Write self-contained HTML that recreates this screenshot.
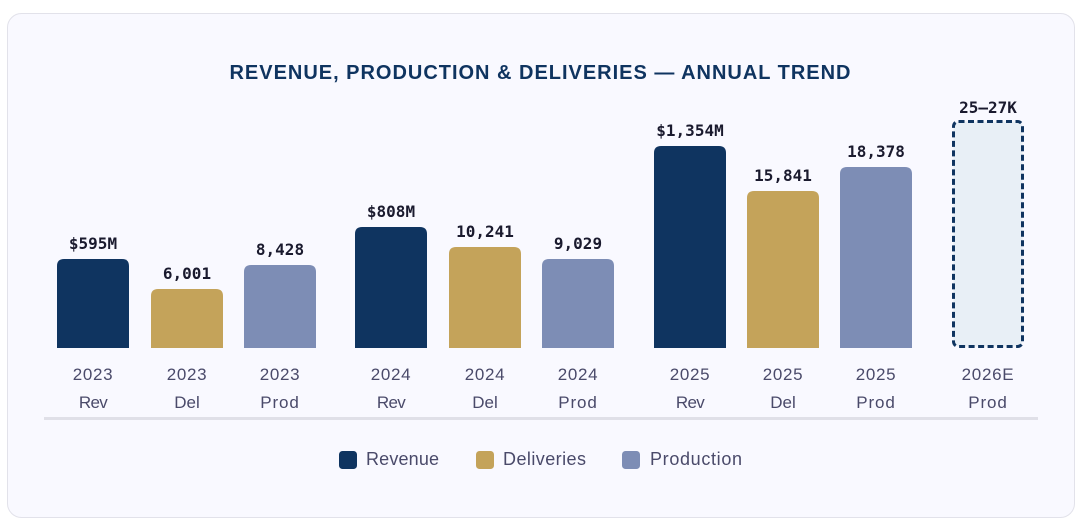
<!DOCTYPE html>
<html lang="en">
<head>
<meta charset="utf-8">
<title>Revenue, Production &amp; Deliveries</title>
<style>
  html, body { margin: 0; padding: 0; background: #fff; width: 1083px; height: 526px; overflow: hidden; }
  svg { display: block; }
  .sans { font-family: "Liberation Sans", Arial, sans-serif; }
  .mono { font-family: "DejaVu Sans Mono", "Liberation Mono", monospace; font-weight: 700; font-size: 16px; fill: #1a1a2e; text-anchor: middle; }
  .axis { font-family: "Liberation Sans", Arial, sans-serif; font-size: 17px; fill: #4a4a6a; text-anchor: middle; letter-spacing: .7px; }
  .axis-rev { letter-spacing: -.7px; }
  .axis-del { letter-spacing: 0; }
  .axis-prod { letter-spacing: .9px; }
  .legend { font-family: "Liberation Sans", Arial, sans-serif; font-size: 18px; fill: #4a4a6a; }
</style>
</head>
<body>
<svg id="chart" width="1083" height="526" viewBox="0 0 1083 526" xmlns="http://www.w3.org/2000/svg">
  <rect x="7.5" y="13.5" width="1067" height="504" rx="14" fill="#f9f9ff" stroke="#e2e2ea"/>
  <text class="sans" x="540" y="79" text-anchor="middle" font-size="20" font-weight="700" fill="#0f3460" textLength="621" lengthAdjust="spacing">REVENUE, PRODUCTION &amp; DELIVERIES — ANNUAL TREND</text>
  <g id="bars"></g>
  <rect x="44" y="417" width="994" height="3" fill="#e0e0e8"/>
  <g>
    <g>
      <rect x="339" y="451" width="18" height="18" rx="3.5" fill="#0f3460"/>
      <text class="legend" x="366" y="465" textLength="73" lengthAdjust="spacing">Revenue</text>
    </g>
    <g>
      <rect x="476" y="451" width="18" height="18" rx="3.5" fill="#c4a35a"/>
      <text class="legend" x="503" y="465" textLength="83" lengthAdjust="spacing">Deliveries</text>
    </g>
    <g>
      <rect x="622" y="451" width="18" height="18" rx="3.5" fill="#7d8db5"/>
      <text class="legend" x="650" y="465" textLength="92" lengthAdjust="spacing">Production</text>
    </g>
  </g>
</svg>
<script>
const years = ["2023", "2023", "2023", "2024", "2024", "2024", "2025", "2025", "2025", "2026E"];
const metrics = ["Rev", "Del", "Prod", "Rev", "Del", "Prod", "Rev", "Del", "Prod", "Prod"];
const values = [595, 6001, 8428, 808, 10241, 9029, 1354, 15841, 18378, 23150];
const valueLabels = ["$595M", "6,001", "8,428", "$808M", "10,241", "9,029", "$1,354M", "15,841", "18,378", "25–27K"];
const groups = [0, 0, 0, 1, 1, 1, 2, 2, 2, 3];
const estimated = [false, false, false, false, false, false, false, false, false, true];

const NS = "http://www.w3.org/2000/svg";
const baseY = 348;
const barWidth = 72;
const colors = { Rev: "#0f3460", Del: "#c4a35a", Prod: "#7d8db5" };
const pxPerUnit = { Rev: 0.1495, Del: 0.0099, Prod: 0.00985 };

function xCenter(i) {
  return 93.4 + 93.3 * i + 18.17 * groups[i];
}
function yTop(value, metric) {
  return baseY - value * pxPerUnit[metric];
}
function topRoundedPath(x, y, w, r) {
  return "M" + x + " " + baseY + "V" + (y + r) + "Q" + x + " " + y + " " + (x + r) + " " + y +
    "H" + (x + w - r) + "Q" + (x + w) + " " + y + " " + (x + w) + " " + (y + r) + "V" + baseY + "Z";
}
function makeText(cls, x, y, content) {
  const t = document.createElementNS(NS, "text");
  t.setAttribute("class", cls);
  t.setAttribute("x", x);
  t.setAttribute("y", y);
  t.textContent = content;
  return t;
}

const barsLayer = document.getElementById("bars");
values.forEach(function (value, i) {
  const metric = metrics[i];
  const cx = xCenter(i);
  const left = Math.round(cx - barWidth / 2);
  const center = left + barWidth / 2;
  const top = Math.round(yTop(value, metric));
  let mark;
  if (estimated[i]) {
    mark = document.createElementNS(NS, "rect");
    mark.setAttribute("x", left + 1.5);
    mark.setAttribute("y", top + 1.5);
    mark.setAttribute("width", barWidth - 3);
    mark.setAttribute("height", baseY - top - 3);
    mark.setAttribute("rx", 5);
    mark.setAttribute("fill", "#e8eff6");
    mark.setAttribute("stroke", "#0f3460");
    mark.setAttribute("stroke-width", 3);
    mark.setAttribute("stroke-dasharray", "6 3.5");
  } else {
    mark = document.createElementNS(NS, "path");
    mark.setAttribute("d", topRoundedPath(left, top, barWidth, 7));
    mark.setAttribute("fill", colors[metric]);
  }
  
  
  barsLayer.appendChild(mark);

  const labelGap = estimated[i] ? 7 : 10;
  const valueText = makeText("mono", center, top - labelGap, valueLabels[i]);
  
  
  barsLayer.appendChild(valueText);

  const yearText = makeText("axis", center, 380, years[i]);
  
  
  barsLayer.appendChild(yearText);

  const metricText = makeText("axis axis-" + metric.toLowerCase(), center, 408, metric);
  
  
  barsLayer.appendChild(metricText);
});
</script>
</body>
</html>
